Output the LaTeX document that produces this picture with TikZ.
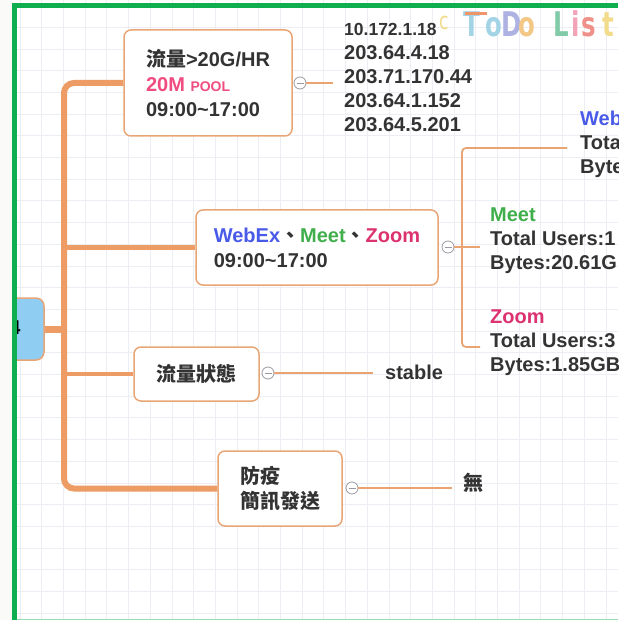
\documentclass[tikz,border=0pt]{standalone}
\usepackage{fontspec}
\setmainfont{Liberation Sans}
\newfontfamily\cjk{Noto Sans CJK TC}
\newfontfamily\hand{DejaVu Sans}
\newcommand{\zh}[1]{{\cjk #1}}
\newcommand{\narrowletter}[1]{\scalebox{0.72}[1]{#1}}
\definecolor{txt}{HTML}{333333}
\definecolor{org}{HTML}{EC9C64}
\definecolor{suborg}{HTML}{E9A472}
\definecolor{bord}{HTML}{E8A676}
\definecolor{wbl}{HTML}{4A5AE8}
\definecolor{mgr}{HTML}{3FAE4B}
\definecolor{zpk}{HTML}{DD3270}
\definecolor{pk}{HTML}{F04C80}
\definecolor{gridc}{HTML}{EDEDF4}
\definecolor{grn}{HTML}{0FAE4F}
\definecolor{lgrn}{HTML}{94DDAE}
\definecolor{cblue}{HTML}{8FCDF3}
\definecolor{bgl}{HTML}{FAFAF8}
\definecolor{cgray}{HTML}{9A9AA2}
\definecolor{tdorange}{HTML}{F0956A}
\definecolor{tdblue}{HTML}{A3D4E6}
\definecolor{tdlav}{HTML}{ADB2E2}
\definecolor{tdyel}{HTML}{F3C886}
\definecolor{tdteal}{HTML}{82CBA8}
\definecolor{tdpink}{HTML}{F2A3B8}
\definecolor{tdcoral}{HTML}{EF9189}
\definecolor{tdlight}{HTML}{F2DC8C}
\begin{document}
\begin{tikzpicture}[x=1pt,y=-1pt,
  box/.style={draw=bord, line width=1.5pt, rounded corners=7pt, fill=white, inner sep=0pt,
    font=\fontsize{20}{25}\selectfont\bfseries, text=txt, align=left},
  leaf/.style={inner sep=0pt, font=\fontsize{20}{24}\selectfont\bfseries, text=txt, align=left, anchor=west},
  trunk/.style={draw=org, line width=6pt},
  branch/.style={draw=org, line width=4.5pt},
  sub/.style={draw=suborg, line width=1.8pt},
  collapse/.style={circle, draw=cgray, fill=white, line width=0.8pt, minimum size=12pt, inner sep=0pt,
    path picture={\draw[cgray, line width=0.8pt] ([xshift=-3.5pt]path picture bounding box.center) -- ([xshift=3.5pt]path picture bounding box.center);}},
  todo/.style={inner sep=0pt, anchor=base west, font=\fontsize{34}{34}\selectfont\hand\bfseries}
]
\useasboundingbox (0,0) rectangle (618,620);
\clip (0,0) rectangle (618,620);
\fill[white] (0,0) rectangle (618,620);
% grid
\foreach \i in {0,...,28} {
  \draw[gridc, line width=0.7pt] (20+21.7*\i,0) -- (20+21.7*\i,620);
  \draw[gridc, line width=0.7pt] (0,5.5+21.7*\i) -- (618,5.5+21.7*\i);
}
% title letters
\node[todo, text=tdlight, font=\fontsize{24}{24}\selectfont\hand] (td0) at (439,30) {\narrowletter{c}};
\node[todo, text=tdblue] (td1) at (463,37) {\narrowletter{T}};
\fill[tdorange] (465,12) rectangle (487,15.5);
\node[todo, text=tdblue] (td2) at (485,37) {\narrowletter{o}};
\node[todo, text=tdlav] (td3) at (501,37) {\narrowletter{D}};
\node[todo, text=tdyel] (td4) at (518,37) {\narrowletter{o}};
\node[todo, text=tdteal] (td5) at (553,37) {\narrowletter{L}};
\node[todo, text=tdpink] (td6) at (571,37) {\narrowletter{i}};
\node[todo, text=tdcoral] (td7) at (581,37) {\narrowletter{s}};
\node[todo, text=tdlight] (td8) at (602,37) {\narrowletter{t}};
% root (partly hidden)
\node[draw=bord, fill=cblue, line width=1.5pt, rounded corners=8pt, minimum width=70pt, minimum height=62pt] (root) at (9,329) {};
\node[inner sep=0pt, font=\fontsize{20}{20}\selectfont\bfseries, text=black] (rootlbl) at (15,328) {4};
% main topics
\node[box, minimum width=168pt, minimum height=106pt] (n1) at (208,83) {\zh{流量}>20G/HR\\\textcolor{pk}{20M {\fontsize{14}{25}\selectfont POOL}}\\09:00\textasciitilde17:00};
\node[box, minimum width=242pt, minimum height=75pt] (n2) at (317,247.5) {\textcolor{wbl}{WebEx}\zh{、}\textcolor{mgr}{Meet}\zh{、}\textcolor{zpk}{Zoom}\\09:00\textasciitilde17:00};
\node[box, minimum width=125pt, minimum height=54pt, align=center] (n3) at (196.5,374) {\zh{流量狀態}};
\node[box, minimum width=124pt, minimum height=75pt] (n4) at (280,488.5) {\zh{防疫}\\\zh{簡訊發送}};
% trunk
\coordinate (tB) at (64,488.5);
\draw[draw=org, line width=7pt] (root.east) -- (root.east -| tB);
\draw[trunk, rounded corners=10pt] (n1.west) -| (tB) -- (n4.west);
\draw[branch] (n2.west -| tB) -- (n2.west);
\draw[branch] (n3.west -| tB) -- (n3.west);
% collapse markers
\node[collapse] (k1) at (300,83) {};
\node[collapse] (k2) at (448,247) {};
\node[collapse] (k3) at (268,373) {};
\node[collapse] (k4) at (352,488) {};
% leaves
\node[leaf] (ip) at (344,78) {{\fontsize{17.5}{24}\selectfont 10.172.1.18}\\203.64.4.18\\203.71.170.44\\203.64.1.152\\203.64.5.201};
\node[leaf] (web) at (580,144) {\textcolor{wbl}{WebEx}\\Total Users:\\Bytes:};
\node[leaf] (meet) at (490,241) {\textcolor{mgr}{Meet}\\Total Users:1\\Bytes:20.61G};
\node[leaf] (zoom) at (490,343) {\textcolor{zpk}{Zoom}\\Total Users:3\\Bytes:1.85GB};
\node[leaf] (stable) at (385,372) {stable};
\node[leaf] (wu) at (463,483) {\zh{無}};
% sub connectors
\draw[sub, shorten >=11pt] (k1.east) -- (k1 -| ip.west);
\draw[sub, shorten >=12pt] (k3.east) -- (k3 -| stable.west);
\draw[sub, shorten >=11pt] (k4.east) -- (k4 -| wu.west);
\coordinate (j2) at (462,247);
\coordinate (wb) at (567,148);
\coordinate (mt) at (480,247);
\coordinate (zm) at (480,347);
\draw[sub] (k2.east) -- (mt);
\draw[sub, rounded corners=4pt] (wb) -| (j2) |- (zm);
% left strip and frame
\fill[bgl] (0,0) rectangle (12.3,620);
\draw[lgrn, line width=2pt] (14,619.5) -- (618,619.5);
\draw[grn, line width=4.5pt] (14.4,620) -- (14.4,5.3) -- (618,5.3);
\end{tikzpicture}
\end{document}
